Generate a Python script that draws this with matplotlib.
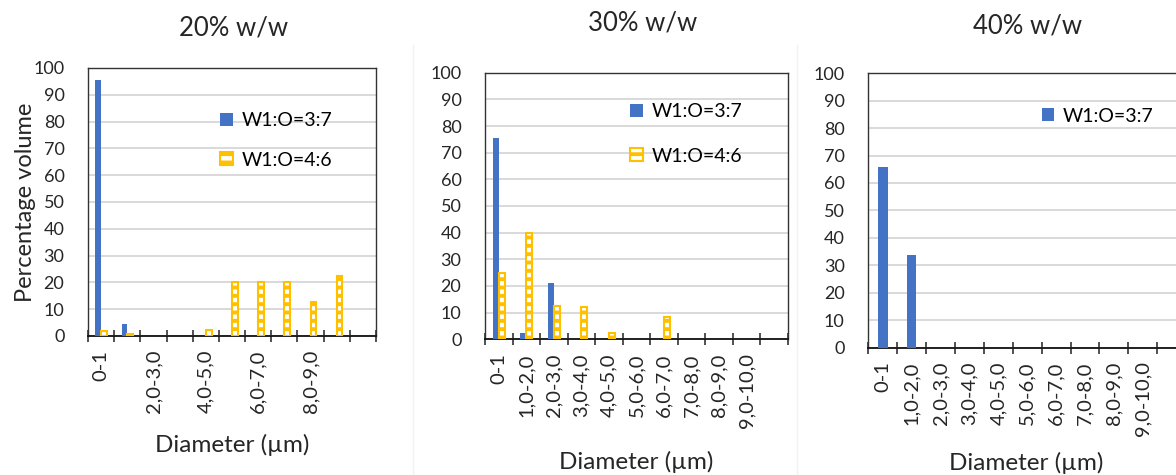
import numpy as np
import matplotlib
matplotlib.use("Agg")
import matplotlib.pyplot as plt
from matplotlib.lines import Line2D

plt.rcParams.update({
    "font.family": ["Lato", "DejaVu Sans"],
    "font.size": 11,
    "hatch.linewidth": 2.8,
})

BLUE = "#4472C4"
YELLOW = "#FFC000"
TXT = "#262626"

# size classes (µm); the last class carries no label
classes = ["0-1", "1,0-2,0", "2,0-3,0", "3,0-4,0", "4,0-5,0", "5,0-6,0",
           "6,0-7,0", "7,0-8,0", "8,0-9,0", "9,0-10,0", ""]

titles = ["20% w/w", "30% w/w", "40% w/w"]
series_names = ["W1:O=3:7", "W1:O=4:6"]

# percentage volume per class
vol_20_37 = [95.4, 4.4, 0, 0, 0, 0, 0, 0, 0, 0, 0]
vol_20_46 = [2.0, 0.6, 0, 0, 2.2, 20, 20, 20, 12.8, 22.4, 0]
vol_30_37 = [75.6, 2.5, 21, 0, 0, 0, 0, 0, 0, 0, 0]
vol_30_46 = [25, 40, 12.5, 12, 2.2, 0, 8.5, 0, 0, 0, 0]
vol_40_37 = [65.7, 33.8, 0, 0, 0, 0, 0, 0, 0, 0, 0]

W, H = 1176, 475
fig = plt.figure(figsize=(W / 100, H / 100), dpi=100)


def px_axes(left, top, right, bottom):
    return fig.add_axes([left / W, 1 - bottom / H, (right - left) / W, (bottom - top) / H])


def draw_yellow(ax, x, vals, width):
    vals = np.asarray(vals, dtype=float)
    keep = vals > 0
    ax.bar(x[keep], vals[keep], width, facecolor="white", edgecolor=YELLOW,
           linewidth=1.5, hatch="--", zorder=3, label=series_names[1])


def style_axes(ax, label_every=1):
    n = len(classes)
    ax.set_xlim(-0.5, n - 0.5)
    ax.set_ylim(0, 100)
    ax.set_yticks(np.arange(0, 101, 10))
    ax.yaxis.grid(True, color="#D9D9D9", linewidth=1.4, zorder=0)
    ax.set_axisbelow(True)
    ax.tick_params(axis="y", length=0, pad=17, labelsize=13, colors=TXT)
    # boundaries get tick marks, centres get the class names
    ax.set_xticks(np.arange(n + 1) - 0.5)
    ax.set_xticklabels([])
    ax.tick_params(axis="x", which="major", direction="inout", length=8,
                   width=1.1, color="#222222")
    ax.set_xticks(np.arange(n), minor=True)
    labels = [c if i % label_every == 0 else "" for i, c in enumerate(classes)]
    ax.set_xticklabels(labels, minor=True, rotation=90, fontsize=14.5, color=TXT)
    ax.tick_params(axis="x", which="minor", length=0, pad=10)
    for s in ax.spines.values():
        s.set_color("#333333")
        s.set_linewidth(1.0)
    ax.spines["bottom"].set_color("#111111")
    ax.spines["bottom"].set_linewidth(1.3)


def add_legend(ax, anchor, spacing):
    ax.legend(loc="upper left", bbox_to_anchor=anchor, frameon=False,
              handlelength=0.65, handleheight=0.65, handletextpad=0.45,
              labelspacing=spacing, fontsize=14, borderpad=0, borderaxespad=0)


x = np.arange(len(classes))
bw = 0.22

# 20 % w/w
ax1 = px_axes(88, 68, 376, 336)
ax1.bar(x - bw / 2, vol_20_37, bw, color=BLUE, zorder=3, label=series_names[0])
draw_yellow(ax1, x + bw / 2, vol_20_46, bw)
style_axes(ax1, label_every=2)
ax1.set_ylabel("Percentage volume", fontsize=17, color=TXT, labelpad=-2)
add_legend(ax1, (0.46, 0.835), 1.15)

# 30 % w/w
ax2 = px_axes(485, 72.7, 788, 339.3)
ax2.bar(x - bw / 2, vol_30_37, bw, color=BLUE, zorder=3, label=series_names[0])
draw_yellow(ax2, x + bw / 2, vol_30_46, bw)
style_axes(ax2)
add_legend(ax2, (0.48, 0.885), 1.4)

# 40 % w/w (right side runs past the edge)
ax3 = px_axes(868.3, 73.3, 868.3 + 11 * 28.9, 347.5)
ax3.bar(x, vol_40_37, 0.33, color=BLUE, zorder=3, label=series_names[0])
style_axes(ax3)
add_legend(ax3, (0.545, 0.875), 1.0)

# x labels and panel titles
xlab = [(232, 445), (636, 462), (1026, 463)]
tpos = [(234, 28), (643, 23), (1028, 26)]
for (lx, ly), (tx, ty), t in zip(xlab, tpos, titles):
    fig.text(lx / W, 1 - ly / H, "Diameter (µm)", ha="center", va="center",
             fontsize=17.5, color=TXT)
    fig.text(tx / W, 1 - ty / H, t, ha="center", va="center",
             fontsize=18.5, color=TXT)

# faint chart-area borders
for xp in (413, 797):
    fig.add_artist(Line2D([xp / W, xp / W], [0, 1 - 45 / H], color="#F2F2F2", lw=1))

fig.savefig("out.png", dpi=100)
